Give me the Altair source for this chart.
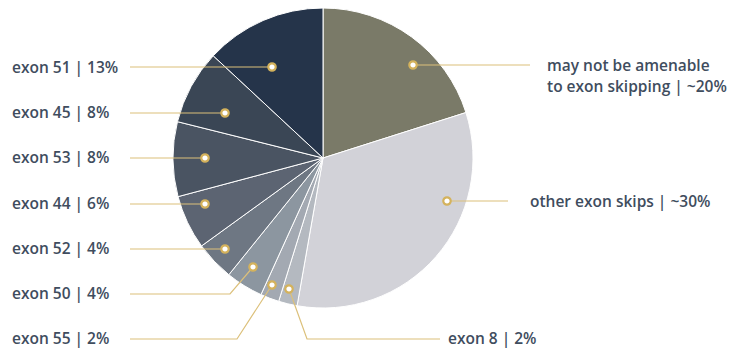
import altair as alt
import pandas as pd

# ---- data ----
categories = ["may not be amenable", "other exon skips", "exon 8", "exon 55", "exon 50",
              "exon 52", "exon 44", "exon 53", "exon 45", "exon 51"]
shares = [20, 32.5, 2, 2, 4, 4.2, 5.8, 8, 8, 13]
slice_colors = ["#7a7a68", "#d2d2d8", "#b4b9c0", "#a3a9b2", "#8c96a0",
                "#6e7783", "#5c6472", "#4a5462", "#3a4655", "#25344a"]

label_texts = ["exon 51 | 13%", "exon 45 | 8%", "exon 53 | 8%", "exon 44 | 6%",
               "exon 52 | 4%", "exon 50 | 4%", "exon 55 | 2%",
               "may not be amenable", "to exon skipping | ~20%",
               "other exon skips | ~30%", "exon 8 | 2%"]

# ---- layout of annotations (pixel frame of the 742x350 canvas) ----
label_x = [12, 12, 12, 12, 12, 12, 12, 547, 547, 530, 448]
label_y = [68, 113, 158, 204, 249, 294, 339, 66, 87, 202, 339]

# leader polylines: first point is the dot
leader_names = ["exon 51", "exon 45", "exon 53", "exon 44", "exon 52", "exon 50",
                "exon 55", "may not be amenable", "other exon skips", "exon 8"]
leader_xs = [[272, 130], [225, 130], [205, 130], [205, 130], [225, 130],
             [253, 230, 130], [272, 237, 130], [413, 530], [447, 508], [289, 307, 440]]
leader_ys = [[67, 67], [113, 113], [158, 158], [204, 204], [249, 249],
             [267, 294, 294], [285, 339, 339], [65, 65], [201, 201], [289, 339, 339]]

W, H = 742, 350
GOLD = "#dcc07a"
DOT = "#d4b25c"
TEXT = "#3f4d5e"
FONT = "Open Sans"

pie_df = pd.DataFrame({"category": categories, "share": shares,
                       "order": list(range(len(categories)))})

rows = []
for name, xs_, ys_ in zip(leader_names, leader_xs, leader_ys):
    for i, (x, y) in enumerate(zip(xs_, ys_)):
        rows.append({"name": name, "seq": i, "x": x, "y": y})
lead_df = pd.DataFrame(rows)
dot_df = lead_df[lead_df.seq == 0]
lab_df = pd.DataFrame({"text": label_texts, "x": label_x, "y": label_y})

xs = alt.Scale(domain=[0, W], range=[0, W], nice=False, zero=False)
ys = alt.Scale(domain=[0, H], range=[0, H], nice=False, zero=False)

pie = alt.Chart(pie_df).mark_arc(radius=150, stroke="white", strokeWidth=1).encode(
    theta=alt.Theta("share:Q", stack=True),
    order=alt.Order("order:Q"),
    color=alt.Color("category:N", scale=alt.Scale(domain=categories, range=slice_colors),
                    legend=None),
    x=alt.value(323),
    y=alt.value(158),
)

leaders = alt.Chart(lead_df).mark_line(color=GOLD, strokeWidth=1.2).encode(
    x=alt.X("x:Q", scale=xs, axis=None),
    y=alt.Y("y:Q", scale=ys, axis=None),
    detail="name:N",
    order="seq:Q",
)

dots = alt.Chart(dot_df).mark_point(filled=True, fill="white", stroke=DOT,
                                    strokeWidth=2.2, size=55, opacity=1).encode(
    x=alt.X("x:Q", scale=xs, axis=None),
    y=alt.Y("y:Q", scale=ys, axis=None),
)

labels = alt.Chart(lab_df).mark_text(align="left", baseline="middle", font=FONT,
                                     fontSize=15.5, fontWeight=600, color=TEXT).encode(
    x=alt.X("x:Q", scale=xs, axis=None),
    y=alt.Y("y:Q", scale=ys, axis=None),
    text="text:N",
)

chart = alt.layer(pie, leaders, dots, labels).properties(
    width=W, height=H, padding=0, autosize=alt.AutoSizeParams(type="none"),
    background="white",
).configure_view(stroke=None)

chart.save("out.html", embed_options={"renderer": "svg", "actions": False})
